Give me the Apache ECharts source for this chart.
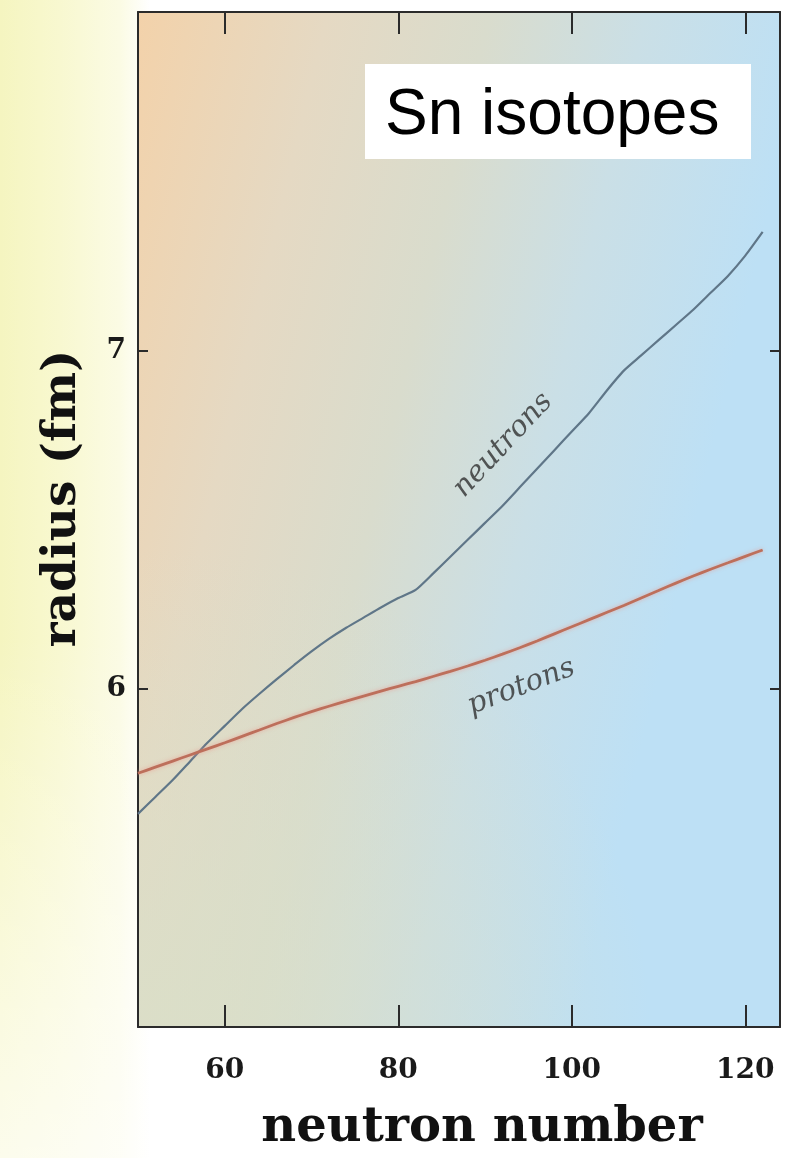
<!DOCTYPE html>
<html>
<head>
<meta charset="utf-8">
<script src="https://cdn.jsdelivr.net/npm/echarts@6/dist/echarts.min.js"></script>
<style>
html, body { margin: 0; padding: 0; }
body {
  width: 792px; height: 1158px; overflow: hidden;
  background:
    linear-gradient(to bottom, rgba(255,255,255,0) 0%, rgba(255,255,255,0) 55%, rgba(255,255,255,0.7) 100%),
    linear-gradient(to right, #f5f5c0 0px, #f8f8d0 60px, #fbfbe4 120px, #ffffff 150px);
}
#chart { width: 792px; height: 1158px; }
</style>
</head>
<body>
<div id="chart"></div>
<script>
// ---- data ----
const neutronNumber = [50,52,54,56,58,60,62,64,66,68,70,72,74,76,78,80,82,84,86,88,90,92,94,96,98,100,102,104,106,108,110,112,114,116,118,120,122];
const neutronRadius = [5.63,5.68,5.73,5.785,5.84,5.89,5.94,5.985,6.028,6.07,6.11,6.147,6.18,6.21,6.24,6.268,6.292,6.34,6.39,6.44,6.49,6.54,6.595,6.65,6.705,6.76,6.815,6.88,6.94,6.985,7.03,7.075,7.12,7.17,7.22,7.28,7.35];
const protonRadius  = [5.750,5.768,5.786,5.804,5.822,5.840,5.859,5.878,5.897,5.915,5.932,5.948,5.963,5.978,5.993,6.007,6.021,6.036,6.051,6.067,6.084,6.102,6.121,6.141,6.162,6.183,6.204,6.225,6.246,6.268,6.290,6.312,6.333,6.353,6.372,6.391,6.410];
const xTickValues = [60, 80, 100, 120];
const yTickValues = [6, 7];
const curveLabels = ['neutrons', 'protons'];
const curveLabelAnchors = [[92.1, 6.72], [94.2, 6.005]];
const curveLabelAngles = [47, 21];
const panelTitle = 'Sn isotopes';
const xAxisTitle = 'neutron number';
const yAxisTitle = 'radius (fm)';

const serif = '"DejaVu Serif", "Liberation Serif", serif';
const boxColor = '#2b2b2b';

const neutronData = neutronNumber.map((n, i) => [n, neutronRadius[i]]);
const protonData = neutronNumber.map((n, i) => [n, protonRadius[i]]);

const chart = echarts.init(document.getElementById('chart'), null, { renderer: 'canvas' });

const axisLineStyle = { show: true, lineStyle: { color: boxColor, width: 2 } };

const option = {
  backgroundColor: 'transparent',
  animation: false,
  grid: {
    left: 138, right: 12, top: 12, bottom: 128,
    show: true,
    borderWidth: 0,
    backgroundColor: new echarts.graphic.LinearGradient(0, 0, 1, 0.15, [
      { offset: 0, color: '#f3d2aa' },
      { offset: 0.28, color: '#e5d9c3' },
      { offset: 0.52, color: '#d9dccd' },
      { offset: 0.75, color: '#cadfe6' },
      { offset: 1, color: '#bde0f5' }
    ])
  },
  xAxis: [
    {
      type: 'value', position: 'bottom', min: 50, max: 124, z: 4,
      axisLine: axisLineStyle,
      axisTick: { show: true, inside: true, length: 22, customValues: xTickValues, lineStyle: { color: boxColor, width: 2 } },
      axisLabel: { show: true, customValues: xTickValues, margin: 30, color: '#1a1a1a', fontFamily: serif, fontWeight: 'bold', fontSize: 28 },
      splitLine: { show: false },
      name: xAxisTitle, nameLocation: 'middle', nameGap: 78,
      nameTextStyle: { color: '#111', fontFamily: serif, fontWeight: 'bold', fontSize: 48, padding: [0, 0, 0, 46] }
    },
    {
      type: 'value', position: 'top', min: 50, max: 124, z: 4,
      axisLine: axisLineStyle,
      axisTick: { show: true, inside: true, length: 22, customValues: xTickValues, lineStyle: { color: boxColor, width: 2 } },
      axisLabel: { show: false },
      splitLine: { show: false }
    }
  ],
  yAxis: [
    {
      type: 'value', position: 'left', min: 5, max: 8, interval: 1, z: 4,
      axisLine: axisLineStyle,
      axisTick: { show: true, inside: true, length: 10, customValues: yTickValues, lineStyle: { color: boxColor, width: 2 } },
      axisLabel: { show: true, customValues: yTickValues, margin: 12, color: '#1a1a1a', fontFamily: serif, fontWeight: 'bold', fontSize: 28 },
      splitLine: { show: false },
      name: yAxisTitle, nameLocation: 'middle', nameGap: 52, nameRotate: 90,
      nameTextStyle: { color: '#111', fontFamily: serif, fontWeight: 'bold', fontSize: 47, padding: [0, 0, 0, 42] }
    },
    {
      type: 'value', position: 'right', min: 5, max: 8, interval: 1, z: 4,
      axisLine: axisLineStyle,
      axisTick: { show: true, inside: true, length: 10, customValues: yTickValues, lineStyle: { color: boxColor, width: 2 } },
      axisLabel: { show: false },
      splitLine: { show: false }
    }
  ],
  series: [
    {
      name: 'neutrons', type: 'line', xAxisIndex: 0, yAxisIndex: 0, z: 5,
      data: neutronData, showSymbol: false, smooth: 0.2,
      lineStyle: { color: '#5f7688', width: 2.2 }
    },
    {
      name: 'protons', type: 'line', xAxisIndex: 0, yAxisIndex: 0, z: 5,
      data: protonData, showSymbol: false, smooth: 0.2,
      lineStyle: { color: '#bd6f5b', width: 2.8, shadowColor: 'rgba(235,150,140,0.7)', shadowBlur: 4 }
    },
    {
      name: 'curve labels', type: 'scatter', xAxisIndex: 0, yAxisIndex: 0, z: 6,
      symbolSize: 0, silent: true,
      data: curveLabels.map((t, i) => ({
        value: curveLabelAnchors[i],
        label: { formatter: t, rotate: curveLabelAngles[i] }
      })),
      label: {
        show: true, position: 'inside',
        fontFamily: serif, fontStyle: 'italic', fontSize: 29, color: '#303030'
      }
    }
  ],
  graphic: [
    {
      type: 'rect', z: 1, silent: true,
      shape: { x: 139, y: 13, width: 640, height: 1015 },
      style: {
        fill: new echarts.graphic.RadialGradient(0.05, 1, 0.75, [
          { offset: 0, color: 'rgba(218,223,200,0.85)' },
          { offset: 1, color: 'rgba(218,223,200,0)' }
        ])
      }
    },
    {
      type: 'rect', left: 365, top: 64, z: 100,
      shape: { width: 386, height: 95 },
      style: { fill: '#ffffff' }
    },
    {
      type: 'text', x: 385, y: 116, z: 101,
      style: {
        text: panelTitle, fill: '#000000',
        font: '64px "Liberation Sans", Arial, sans-serif',
        textAlign: 'left', textVerticalAlign: 'middle'
      }
    }
  ]
};

chart.setOption(option);
</script>
</body>
</html>
